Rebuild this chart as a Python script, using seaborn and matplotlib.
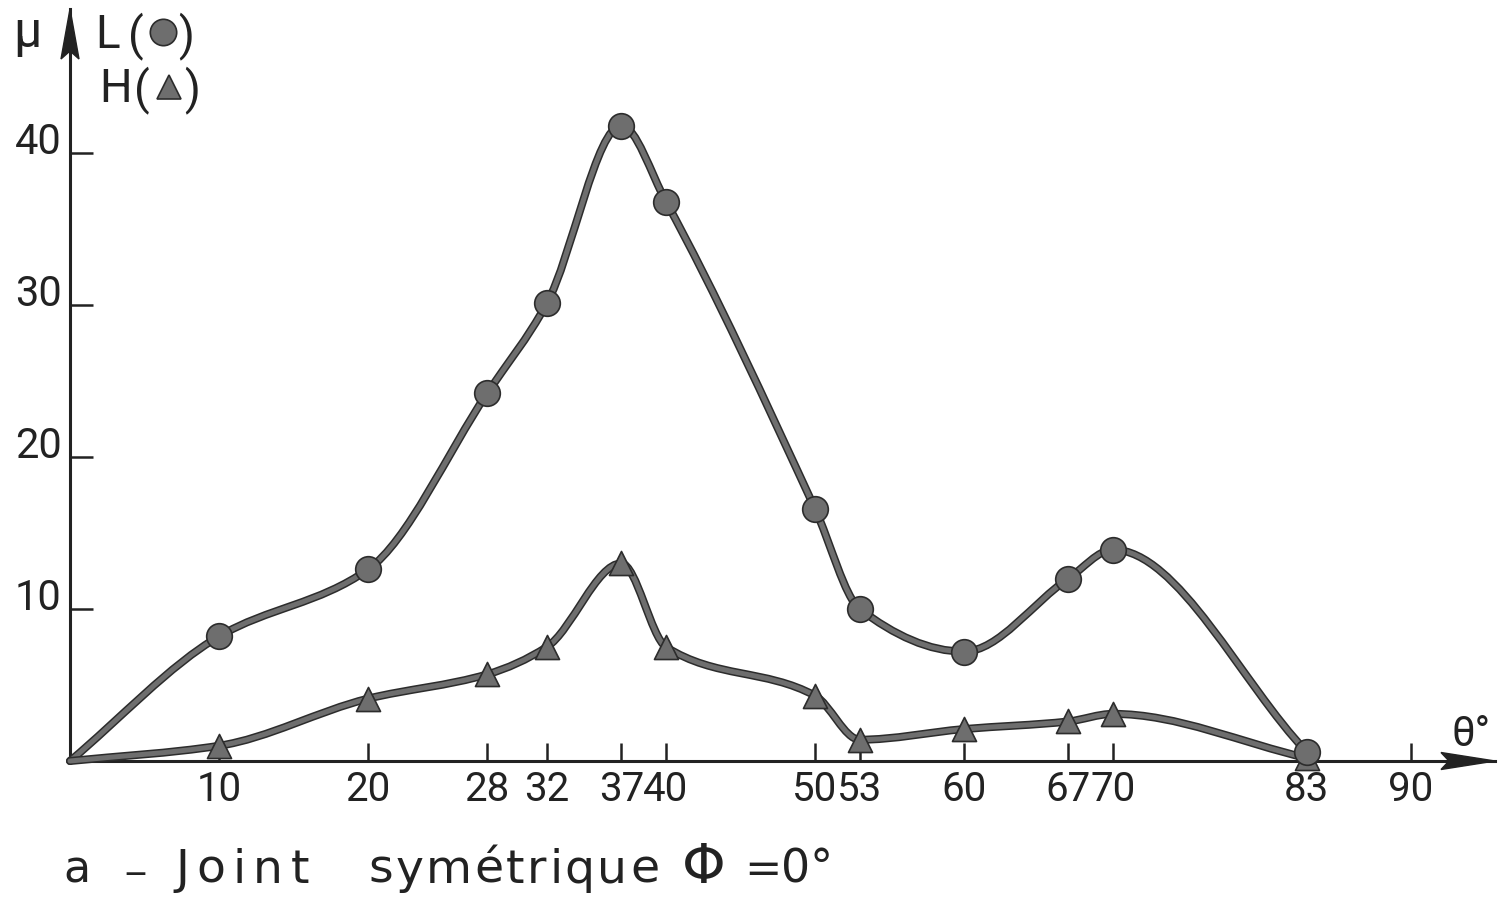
import numpy as np
import pandas as pd
import matplotlib
matplotlib.use("Agg")
import matplotlib.pyplot as plt
import seaborn as sns
from matplotlib.path import Path
from matplotlib.patches import PathPatch, Polygon
from matplotlib.lines import Line2D
import matplotlib.patheffects as pe

# ---------------- data ----------------
theta = [0, 10, 20, 28, 32, 37, 40, 50, 53, 60, 67, 70, 83]
mu_L = [0.0, 8.2, 12.6, 24.2, 30.1, 41.8, 36.8, 16.6, 10.0, 7.2, 12.0, 13.9, 0.6]
mu_H = [0.0, 1.0, 4.1, 5.7, 7.5, 13.0, 7.5, 4.3, 1.4, 2.1, 2.6, 3.1, 0.2]
x_ticks = [10, 20, 28, 32, 37, 40, 50, 53, 60, 67, 70, 83, 90]
y_ticks = [10, 20, 30, 40]
x_tick_labels = [str(v) for v in x_ticks]
y_tick_labels = [str(v) for v in y_ticks]
caption_words = ["a", "_", "Joint", "symétrique", "Φ", "=", "0°"]

# ---------------- style ----------------
sns.set_style("white")
plt.rcParams["font.family"] = ["Roboto", "DejaVu Sans"]
plt.rcParams["ytick.alignment"] = "baseline"

INK = "#222222"
GRAY = "#6e6e6e"
EDGE = "#2c2c2c"

W, H = 1500, 903
fig = plt.figure(figsize=(15, 9.03), dpi=100)
fig.patch.set_facecolor("white")

def fx(px):
    return px / W

def fy(py):
    return 1 - py / H

# axes: origin at pixel (70, 762), 14.9 px per degree, 15.2 px per unit of mu
X0, Y0, XR, YT = 70, 762, 1495, 10
ax = fig.add_axes([fx(X0), fy(Y0), (XR - X0) / W, (Y0 - YT) / H])
ax.set_facecolor("none")
ax.set_xlim(0, (XR - X0) / 14.9)
ax.set_ylim(0, (Y0 - YT) / 15.2)

for s in ["top", "right"]:
    ax.spines[s].set_visible(False)
for s in ["left", "bottom"]:
    ax.spines[s].set_linewidth(2.2)
    ax.spines[s].set_color(INK)

ax.set_xticks(x_ticks)
ax.set_xticklabels(x_tick_labels)
ax.set_yticks(y_ticks)
ax.set_yticklabels(y_tick_labels)
ax.tick_params(axis="x", bottom=True, direction="in", length=13, width=1.8,
               pad=6, labelsize=29, color=INK, labelcolor=INK)
ax.tick_params(axis="y", left=True, direction="in", length=16.5, width=1.8,
               pad=6, labelsize=30, color=INK, labelcolor=INK)

# arrow heads on the axes
ax.add_patch(Polygon([(1, 0), (1 - 54 / 1425, 8.5 / 752), (1 - 46 / 1425, 0),
                      (1 - 54 / 1425, -8.5 / 752)], closed=True,
                     transform=ax.transAxes, clip_on=False, fc=INK, ec=INK, lw=1))
ax.add_patch(Polygon([(0, 1), (-9 / 1425, 1 - 50 / 752), (0, 1 - 42 / 752),
                      (9 / 1425, 1 - 50 / 752)], closed=True,
                     transform=ax.transAxes, clip_on=False, fc=INK, ec=INK, lw=1))


# ---------------- smooth curves through the measured points ----------------
def smooth_path(x, y):
    x = np.asarray(x, float)
    y = np.asarray(y, float)
    h = np.diff(x)
    d = np.diff(y) / h
    m = np.empty_like(y)
    m[0], m[-1] = d[0], d[-1]
    for k in range(1, len(x) - 1):
        if d[k - 1] * d[k] <= 0:
            m[k] = 0.0
        else:
            w1 = 2 * h[k] + h[k - 1]
            w2 = h[k] + 2 * h[k - 1]
            m[k] = (w1 + w2) / (w1 / d[k - 1] + w2 / d[k])
    verts = [(x[0], y[0])]
    codes = [Path.MOVETO]
    for k in range(len(x) - 1):
        verts += [(x[k] + h[k] / 3, y[k] + m[k] * h[k] / 3),
                  (x[k + 1] - h[k] / 3, y[k + 1] - m[k + 1] * h[k] / 3),
                  (x[k + 1], y[k + 1])]
        codes += [Path.CURVE4] * 3
    return Path(verts, codes)

for series in (mu_L, mu_H):
    patch = PathPatch(smooth_path(theta, series), fill=False, ec=GRAY, lw=3.6,
                      capstyle="round", joinstyle="round", zorder=3,
                      transform=ax.transData, clip_on=False)
    patch.set_path_effects([pe.Stroke(linewidth=5.8, foreground=EDGE),
                            pe.Normal()])
    ax.add_patch(patch)

df_L = pd.DataFrame({"theta": theta[1:], "mu": mu_L[1:]})
df_H = pd.DataFrame({"theta": theta[1:], "mu": mu_H[1:]})
sns.scatterplot(data=df_H, x="theta", y="mu", marker="^", s=300, color=GRAY,
                edgecolor=EDGE, linewidth=1.2, zorder=4, ax=ax, clip_on=False)
sns.scatterplot(data=df_L, x="theta", y="mu", marker="o", s=340, color=GRAY,
                edgecolor=EDGE, linewidth=1.2, zorder=5, ax=ax, clip_on=False)
ax.set_xlabel("")
ax.set_ylabel("")

# ---------------- axis titles ----------------
fig.text(fx(27), fy(33), "μ", ha="center", va="center", fontsize=36, color=INK)
fig.text(fx(95), fy(48), "L", ha="left", va="baseline", fontsize=33, color=INK)
fig.text(fx(128), fy(49), "(", ha="left", va="baseline", fontsize=33, color=INK)
fig.text(fx(178), fy(49), ")", ha="left", va="baseline", fontsize=33, color=INK)
fig.text(fx(99), fy(102), "H", ha="left", va="baseline", fontsize=33, color=INK)
fig.text(fx(134), fy(103), "(", ha="left", va="baseline", fontsize=33, color=INK)
fig.text(fx(184), fy(103), ")", ha="left", va="baseline", fontsize=33, color=INK)
fig.add_artist(Line2D([fx(163)], [fy(33)], marker="o", markersize=19,
                      markerfacecolor=GRAY, markeredgecolor=EDGE,
                      markeredgewidth=1.2, transform=fig.transFigure))
fig.add_artist(Line2D([fx(169)], [fy(88)], marker="^", markersize=17,
                      markerfacecolor=GRAY, markeredgecolor=EDGE,
                      markeredgewidth=1.2, transform=fig.transFigure))

fig.text(fx(1451), fy(746), "θ°", ha="left", va="baseline", fontsize=30,
         color=INK)

# ---------------- caption (hand lettering: spread letters over measured span) ----------------
renderer = fig.canvas.get_renderer()
CAP = dict(color=INK, family=["DejaVu Sans"])

def tracked(word, x_start, x_end, baseline, size):
    texts = [fig.text(0, fy(baseline), ch, ha="left", va="baseline",
                      fontsize=size, **CAP) for ch in word]
    widths = [t.get_window_extent(renderer).width for t in texts]
    gap = (x_end - x_start - sum(widths)) / max(len(word) - 1, 1)
    x = x_start
    for t, w in zip(texts, widths):
        t.set_x(fx(x))
        x += w + gap

fig.text(fx(63), fy(883), caption_words[0], ha="left", va="baseline",
         fontsize=32, **CAP)
fig.text(fx(126), fy(867), caption_words[1], ha="left", va="baseline",
         fontsize=26, **CAP)
tracked(caption_words[2], 175, 309, 883, 34)
tracked(caption_words[3], 368, 659, 883, 34)
fig.text(fx(704), fy(868), caption_words[4], ha="center", va="center",
         fontsize=40, **CAP)
fig.text(fx(744), fy(883), caption_words[5], ha="left", va="baseline",
         fontsize=32, **CAP)
fig.text(fx(781), fy(883), caption_words[6], ha="left", va="baseline",
         fontsize=33, **CAP)

fig.savefig("out.png", dpi=100)
